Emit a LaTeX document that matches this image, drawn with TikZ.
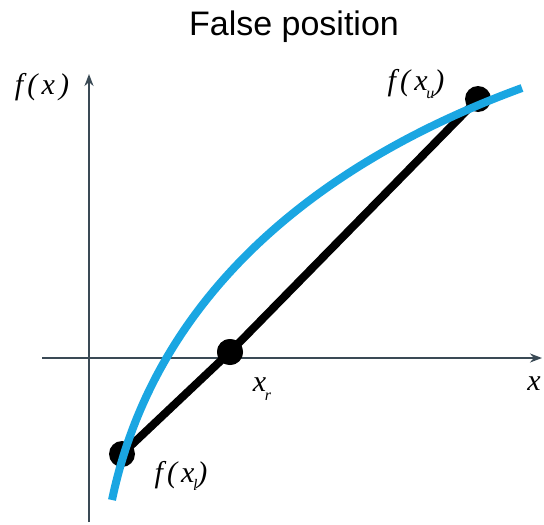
\documentclass[tikz,border=0pt]{standalone}
\usepackage{fontspec}
\setmainfont{Liberation Serif}
\newfontfamily\titlefont{Liberation Sans}
\newfontfamily\labelfont[LetterSpace=14]{Liberation Serif Italic}
\usetikzlibrary{arrows.meta}
\definecolor{axisgray}{HTML}{3A4A55}
\definecolor{curveblue}{HTML}{1AA6E2}
\newcommand{\subtxt}[1]{\kern-1.5pt\raisebox{-0.28em}{\fontsize{16}{18}\selectfont #1}}
\begin{document}
\begin{tikzpicture}[x=1pt,y=-1pt,
  axisline/.style={draw=axisgray,line width=2.4pt,-{Stealth[length=12pt,width=9pt]}},
  secant/.style={draw=black,line width=8pt},
  dotnode/.style={circle,fill=black,inner sep=0pt,minimum size=26pt},
  lbl/.style={font=\labelfont\fontsize{30}{34}\selectfont,inner sep=0pt},
  curve/.style={draw=curveblue,line width=8pt}]
\useasboundingbox (0,0) rectangle (544,525);
\node[font=\titlefont\fontsize{34}{38}\selectfont,inner sep=0pt] (title) at (294,27) {False position};
% axes
\coordinate (xs) at (42,358);
\coordinate (xe) at (542,358);
\coordinate (ys) at (89,522);
\coordinate (ye) at (89,74);
\draw[axisline] (xs) -- (xe);
\draw[axisline] (ys) -- (ye);
% points
\node[dotnode] (l) at (122,454) {};
\node[dotnode] (r) at (230,352) {};
\node[dotnode] (u) at (478,99) {};
\draw[secant] (l.center) -- (r.center) -- (u.center);
\node[dotnode] at (r) {};
% function curve
\coordinate (cs) at (112,500);
\coordinate (ce) at (522,88);
\draw[curve] (cs) .. controls (153,304) and (306,167) .. (ce);
% labels
\node[lbl] (fx) at (42,87) {f(x)};
\node[lbl] (xl) at (534,384) {x};
\node[lbl] (xr) at (262,389) {x\subtxt{r}};
\node[lbl] (fxl) at (181,476) {f(x\subtxt{l})};
\node[lbl] (fxu) at (416,84) {f(x\subtxt{u})};
\end{tikzpicture}
\end{document}
